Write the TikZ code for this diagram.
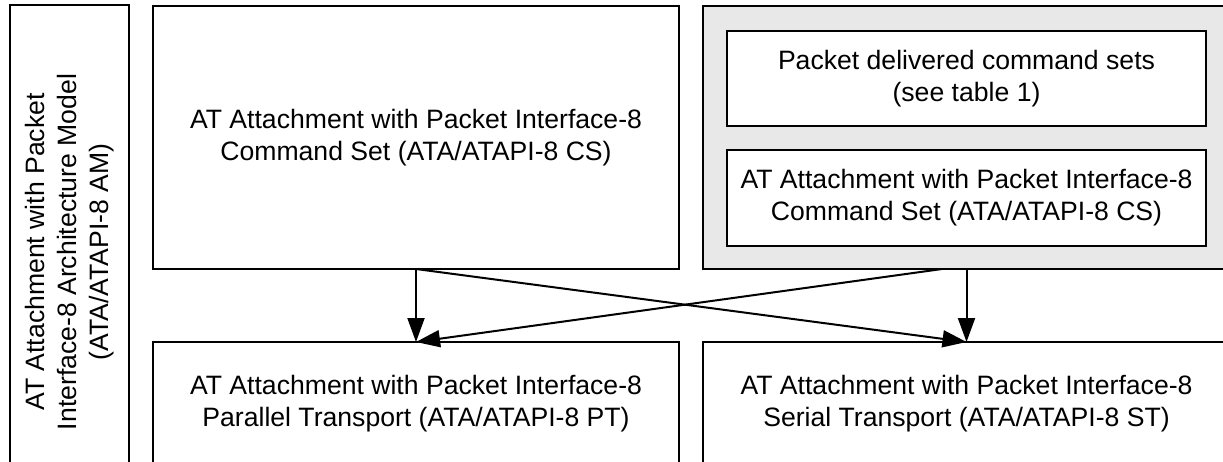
\documentclass[tikz,border=0pt]{standalone}
\usepackage{fontspec}
\setmainfont{Liberation Sans}
\usetikzlibrary{arrows.meta}
\definecolor{panelgray}{RGB}{232,232,232}
\tikzset{
  box/.style={draw=black, line width=2pt, inner sep=0pt, outer sep=0pt,
    align=center, font=\fontsize{26.6}{32}\selectfont},
  flow/.style={line width=2pt, -{Triangle[length=24pt,width=17pt]}}
}
\begin{document}
\begin{tikzpicture}[x=1pt,y=-1pt]
  \useasboundingbox (0,0) rectangle (1223,461);
  \clip (0,0) rectangle (1223,461);
  \fill[white] (0,0) rectangle (1223,461);

  % architecture model, running down the left side
  \node[box, rotate=90, minimum width=494pt, minimum height=119pt] (am) at (69.5,252)
    {AT Attachment with Packet\\Interface-8 Architecture Model\\(ATA/ATAPI-8 AM)};

  % command set layer
  \node[box, minimum width=526pt, minimum height=263pt] (cs) at (416,137.5)
    {AT Attachment with Packet Interface-8\\Command Set (ATA/ATAPI-8 CS)};

  \node[box, fill=panelgray, minimum width=527pt, minimum height=263pt] (grp) at (966.5,137.5) {};
  \node[box, fill=white, minimum width=479pt, minimum height=95pt] (pkt) at (966.5,78.5)
    {Packet delivered command sets\\(see table 1)};
  \node[box, fill=white, minimum width=479pt, minimum height=96pt] (cs2) at (966.5,198)
    {AT Attachment with Packet Interface-8\\Command Set (ATA/ATAPI-8 CS)};

  % transport layer
  \node[box, minimum width=526pt, minimum height=123pt] (pt) at (416,403.5)
    {AT Attachment with Packet Interface-8\\Parallel Transport (ATA/ATAPI-8 PT)};
  \node[box, minimum width=527pt, minimum height=123pt] (st) at (966.5,403.5)
    {AT Attachment with Packet Interface-8\\Serial Transport (ATA/ATAPI-8 ST)};

  % connections
  \coordinate (grpout) at ([xshift=-24.5pt]grp.south);
  \draw[flow] (cs.south) -- (pt.north);
  \draw[flow] (cs.south) -- (st.north);
  \draw[flow] (grpout) -- (pt.north);
  \draw[flow] (grp.south) -- (st.north);
\end{tikzpicture}
\end{document}
